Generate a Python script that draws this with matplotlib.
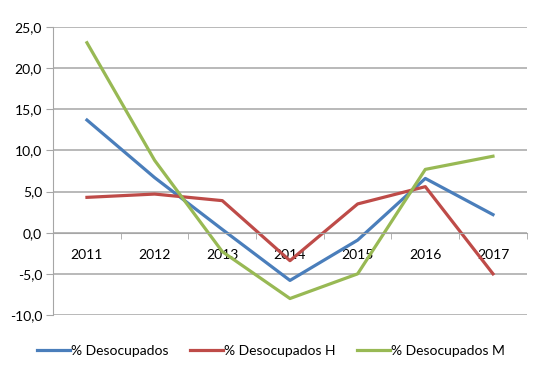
import numpy as np
import matplotlib
matplotlib.use('Agg')
import matplotlib.pyplot as plt

## Data
years = ['2011', '2012', '2013', '2014', '2015', '2016', '2017']
desocupados = [13.7, 6.7, 0.4, -5.8, -0.9, 6.6, 2.2]
desocupados_h = [4.3, 4.7, 3.9, -3.4, 3.5, 5.6, -5.0]
desocupados_m = [23.1, 8.8, -2.3, -8.0, -5.0, 7.7, 9.3]

plt.rcParams['font.family'] = ['Lato', 'DejaVu Sans']

fig = plt.figure(figsize=(5.42, 3.71), dpi=100)
ax = fig.add_axes([0.098, 0.151, 0.874, 0.776])

x = np.arange(len(years))
ax.plot(x, desocupados, color='#4A7EBB', lw=2.3, label='% Desocupados')
ax.plot(x, desocupados_h, color='#BE4B48', lw=2.3, label='% Desocupados H')
ax.plot(x, desocupados_m, color='#98B954', lw=2.3, label='% Desocupados M')

ax.set_xlim(-0.5, len(years) - 0.5)
ax.set_ylim(-10, 25)
yt = np.arange(-10, 26, 5)
ax.set_yticks(yt)
ax.set_yticklabels([('%.1f' % v).replace('.', ',') for v in yt], fontsize=10)
ax.yaxis.grid(True, color='#A6A6A6', lw=1.1)
ax.set_axisbelow(True)

# category axis sits on zero
ax.spines['bottom'].set_position(('data', 0))
ax.spines['bottom'].set_color('#A6A6A6')
ax.spines['left'].set_color('#A6A6A6')
ax.spines['top'].set_visible(False)
ax.spines['right'].set_visible(False)
ax.set_xticks(x)
ax.set_xticklabels(years, fontsize=10)
ax.set_xticks(np.arange(-0.5, len(years), 1), minor=True)
ax.tick_params(axis='x', which='major', length=0, pad=12)
ax.tick_params(axis='x', which='minor', length=4, color='#A6A6A6')
ax.tick_params(axis='y', length=5, color='#A6A6A6', pad=3)

fig.legend(loc='lower center', bbox_to_anchor=(0.5, 0.005), ncol=3, frameon=False,
           fontsize=10, handlelength=2.4, columnspacing=1.5, handletextpad=0.1)

fig.savefig('out.png', dpi=100)
